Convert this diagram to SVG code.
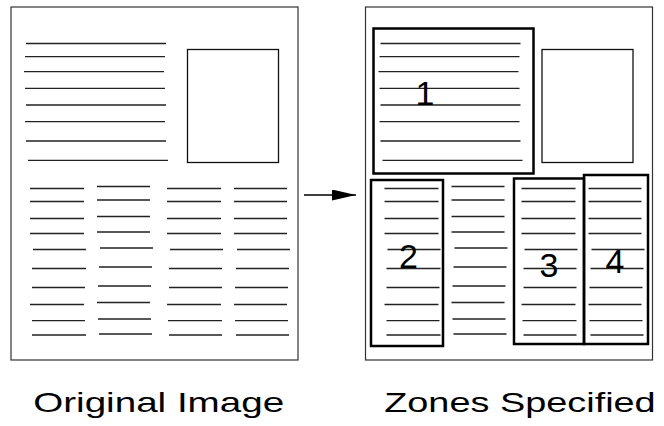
<svg xmlns="http://www.w3.org/2000/svg" xmlns:xlink="http://www.w3.org/1999/xlink" width="664" height="426" viewBox="0 0 664 426">
<style>
.page{fill:#fff;stroke:#333;stroke-width:1.2}
.ln{stroke:#222;stroke-width:1.3;fill:none}
.img{fill:#fff;stroke:#111;stroke-width:1.3}
.zone{fill:none;stroke:#000;stroke-width:2.5}
.num{font-family:"Liberation Sans",Arial,sans-serif;font-size:34px;fill:#000;text-anchor:middle}
.cap{font-family:"Liberation Sans",Arial,sans-serif;font-size:28.5px;fill:#000}
</style>
<defs>
<marker id="ah" markerWidth="24" markerHeight="11" refX="24" refY="5.5" orient="auto" markerUnits="userSpaceOnUse">
<path d="M0,0 L24,5.5 L0,11 Z" fill="#000"/>
</marker>
<g id="pageContent">
<rect class="page" x="11" y="7" width="287" height="353"/>
<path class="ln" d="M26,43.5H166M25,56.7H165M24,71.7H164M25,88.3H165M26,105H166M25,121.7H165M26,141H166M28,160.3H168"/>
<rect class="img" x="187.5" y="49.5" width="91" height="113"/>
<path class="ln" d="M30,188.5H84M30,201.5H84M30,218.5H84M30,233.5H84M33,249.5H86M32,268.5H86M32,287.5H85M30,304.5H84M32,320.7H85M32,335H86"/>
<path class="ln" d="M97,186.5H150M97,200H150M97,216.5H150M97,232H150M100,248H153M99,267H152M98,286H151M97,302.5H150M98,319H151M99,334H152"/>
<path class="ln" d="M167,188.5H221M167,201.5H221M167,218.5H221M167,233.5H221M170,249.5H223M169,268.5H222M169,287.5H222M167,304.5H221M168,320.7H222M169,335H222"/>
<path class="ln" d="M234,188.5H287M234,201.5H287M234,218.5H287M234,233.5H287M237,249.5H290M236,268.5H289M235,287.5H288M234,304.5H287M235,320.7H288M236,335H289"/>
</g>
</defs>
<g id="original-image">
<use xlink:href="#pageContent"/>
</g>
<g id="zones-specified">
<use xlink:href="#pageContent" transform="translate(354.5,0)"/>
</g>
<g id="zone-1">
<rect class="zone" x="373.5" y="28.5" width="160" height="145"/>
<text class="num" x="425" y="105">1</text>
</g>
<g id="zone-2">
<rect class="zone" x="371" y="180" width="72" height="166"/>
<text class="num" x="408.5" y="267.5">2</text>
</g>
<g id="zone-3">
<rect class="zone" x="514" y="178.5" width="70" height="165.5"/>
<text class="num" x="549" y="277">3</text>
</g>
<g id="zone-4">
<rect class="zone" x="584" y="175" width="64" height="169"/>
<text class="num" x="615" y="273">4</text>
</g>
<g id="connectors">
<line x1="304" y1="195" x2="356" y2="195" stroke="#000" stroke-width="1.4" marker-end="url(#ah)"/>
</g>
<g id="captions">
<text class="cap" x="33.2" y="412" textLength="251" lengthAdjust="spacingAndGlyphs">Original Image</text>
<text class="cap" x="384.2" y="412" textLength="271.5" lengthAdjust="spacingAndGlyphs">Zones Specified</text>
</g>
</svg>
